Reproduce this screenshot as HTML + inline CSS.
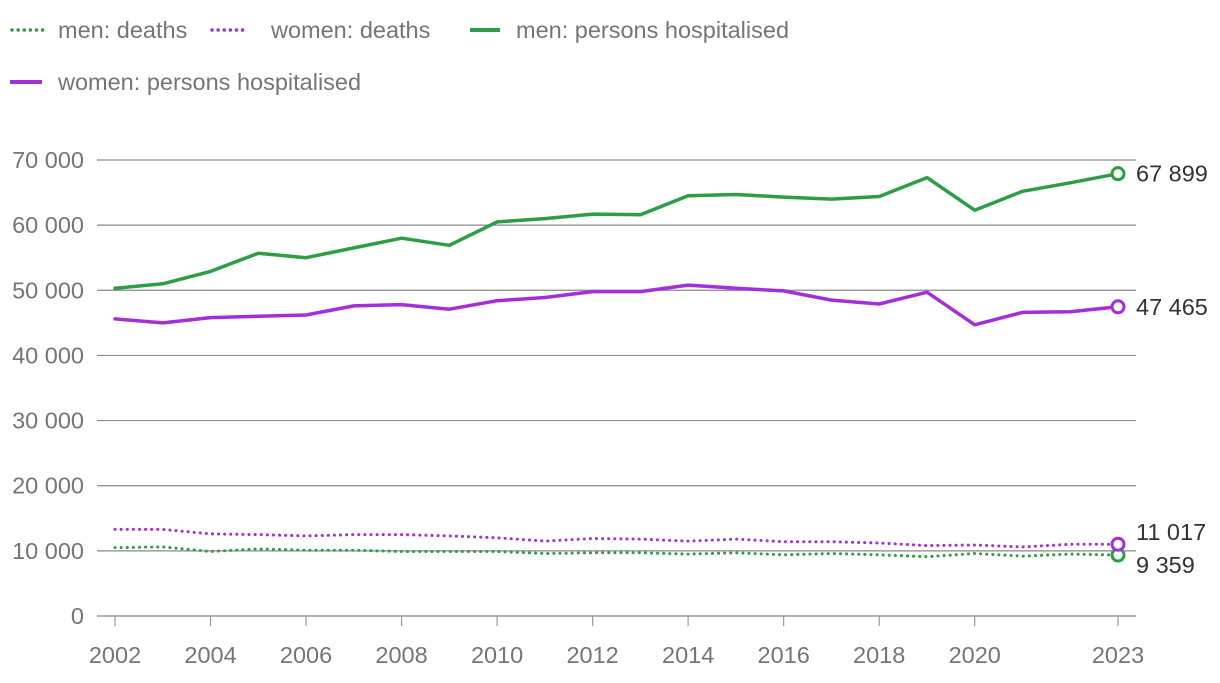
<!DOCTYPE html>
<html><head><meta charset="utf-8"><style>
body{margin:0;background:#fff;font-family:"Liberation Sans",Roboto,sans-serif;}
svg text{font-family:"Liberation Sans",sans-serif;}
</style></head><body>
<svg id="chart" width="1220" height="678" xmlns="http://www.w3.org/2000/svg">
<g id="legend">
 <g><line x1="12" y1="30" x2="44" y2="30" stroke="#2e9e46" stroke-width="3.5" stroke-dasharray="0.1,6" stroke-linecap="round"/><text x="58" y="38" font-size="23.5" fill="#757575">men: deaths</text></g>
 <g><line x1="212" y1="30" x2="244" y2="30" stroke="#a32fd9" stroke-width="3.5" stroke-dasharray="0.1,6" stroke-linecap="round"/><text x="271" y="38" font-size="23.5" fill="#757575">women: deaths</text></g>
 <g><line x1="470" y1="30" x2="500" y2="30" stroke="#2e9e46" stroke-width="4"/><text x="516" y="38" font-size="23.5" fill="#757575">men: persons hospitalised</text></g>
 <g><line x1="10" y1="82" x2="42" y2="82" stroke="#a32fd9" stroke-width="4"/><text x="58" y="90" font-size="23.5" fill="#757575">women: persons hospitalised</text></g>
</g>
<g id="grid"></g><g id="series"></g>
</svg>
<script>
const years=[2002,2003,2004,2005,2006,2007,2008,2009,2010,2011,2012,2013,2014,2015,2016,2017,2018,2019,2020,2021,2022,2023];
const menHosp=[50300,51000,52900,55700,55000,56500,58000,56900,60500,61000,61700,61600,64500,64700,64300,64000,64400,67300,62300,65200,66500,67899];
const womenHosp=[45600,45000,45800,46000,46200,47600,47800,47100,48400,48900,49800,49800,50800,50300,49900,48500,47900,49700,44700,46600,46700,47465];
const womenDeaths=[13300,13300,12600,12500,12300,12500,12500,12300,12000,11500,11900,11800,11500,11800,11400,11400,11200,10800,10900,10600,11000,11017];
const menDeaths=[10500,10600,9900,10300,10100,10100,9900,9900,9900,9600,9700,9700,9500,9700,9400,9600,9400,9100,9600,9200,9500,9359];
const yTicks=[0,10000,20000,30000,40000,50000,60000,70000];
const xTicks=[2002,2004,2006,2008,2010,2012,2014,2016,2018,2020,2023];
const NS="http://www.w3.org/2000/svg";
const x=v=>115+(v-2002)*(1118-115)/21;
const y=v=>616-v*(456/70000);
const fmt=v=>String(v).replace(/\B(?=(\d{3})+(?!\d))/g," ");
function mk(t,a,p){const e=document.createElementNS(NS,t);for(const k in a)e.setAttribute(k,a[k]);p.appendChild(e);return e;}
const g=document.getElementById('grid');
yTicks.forEach(v=>{
 const l=mk('line',{x1:97,x2:1136,y1:y(v),y2:y(v),stroke:v===0?'#999':'#8a8a8a','stroke-width':v===0?1.5:1.2},g);
 
 
 const t=mk('text',{x:84,y:y(v)+8,'text-anchor':'end','font-size':23.5,fill:'#757575'},g);t.textContent=fmt(v);
 
 
});
xTicks.forEach(v=>{
 const l=mk('line',{x1:x(v),x2:x(v),y1:616,y2:626,stroke:'#999','stroke-width':1.2},g);
 
 
 const t=mk('text',{x:x(v),y:663,'text-anchor':'middle','font-size':23.5,fill:'#757575'},g);t.textContent=v;
 
 
});
const s=document.getElementById('series');
function series(data,color,dashed,name,labelDy){
 const d=data.map((v,i)=>(i?'L':'M')+x(years[i]).toFixed(1)+','+y(v).toFixed(1)).join('');
 const p=mk('path',{d:d,fill:'none',stroke:color,'stroke-width':dashed?3:3.5,'stroke-linejoin':'round','stroke-linecap':'round'},s);
 if(dashed)p.setAttribute('stroke-dasharray','0.1,6');
 
 
 const last=data[data.length-1],lx=x(years[years.length-1]),ly=y(last);
 const c=mk('circle',{cx:lx,cy:ly,r:6,fill:'#fff',stroke:color,'stroke-width':3},s);
 
 
 const t=mk('text',{x:1136,y:ly+8+labelDy,'font-size':23.5,fill:'#333'},s);t.textContent=fmt(last);
 
 
}
series(menDeaths,'#2e9e46',true,'men-deaths',10);
series(womenDeaths,'#a32fd9',true,'women-deaths',-12);
series(menHosp,'#2e9e46',false,'men-hospitalised',0);
series(womenHosp,'#a32fd9',false,'women-hospitalised',0);
</script>
</body></html>
